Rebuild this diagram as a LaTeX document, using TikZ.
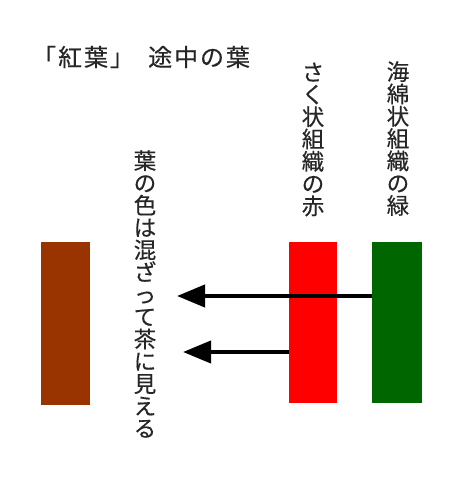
\documentclass[tikz,border=0pt]{standalone}
\usepackage{fontspec}
\newfontfamily\cjk[FakeBold=0.4]{Noto Sans CJK JP}
\newfontfamily\cjktitle[FakeBold=0.4,LetterSpace=8]{Noto Sans CJK JP}
\usetikzlibrary{arrows.meta}
\tikzset{
  bar/.style={draw=none, inner sep=0pt, minimum width=#1},
  vtext/.style={inner sep=0pt, align=center, text=black!85, font=\cjk\fontsize{22.5}{22.3}\selectfont},
  ttext/.style={anchor=west, inner sep=0pt, text=black!85, font=\cjktitle\fontsize{24}{26}\selectfont},
  conn/.style={line width=4pt, -{Triangle[length=28pt,width=22pt]}},
}
\definecolor{leafbrown}{HTML}{993300}
\definecolor{leafred}{HTML}{FF0000}
\definecolor{leafgreen}{HTML}{006600}
\begin{document}
\begin{tikzpicture}[x=1pt,y=-1pt]
\useasboundingbox (0,0) rectangle (470,482);
\node[ttext] (title1) at (32,57) {「紅葉」};
\node[ttext] (title2) at (148,57) {途中の葉};
\node[vtext] (redlabel) at (313,139.5) {さ\\く\\状\\組\\織\\の\\赤};
\node[vtext] (greenlabel) at (398,138.5) {海\\綿\\状\\組\\織\\の\\緑};
\node[vtext] (mixlabel) at (145,294) {葉\\の\\色\\は\\混\\ざ\\っ\\て\\茶\\に\\見\\え\\る};
\node[bar=49pt, minimum height=163pt, fill=leafbrown] (brown) at (65.5,323.5) {};
\node[bar=48pt, minimum height=161pt, fill=leafred] (red) at (313,322.5) {};
\node[bar=50pt, minimum height=161pt, fill=leafgreen] (green) at (397,322.5) {};
\coordinate (tip1) at (177,296);
\coordinate (tip2) at (183,352);
\draw[conn] (green.west |- tip1) -- (tip1);
\draw[conn] (red.west |- tip2) -- (tip2);
\end{tikzpicture}
\end{document}
